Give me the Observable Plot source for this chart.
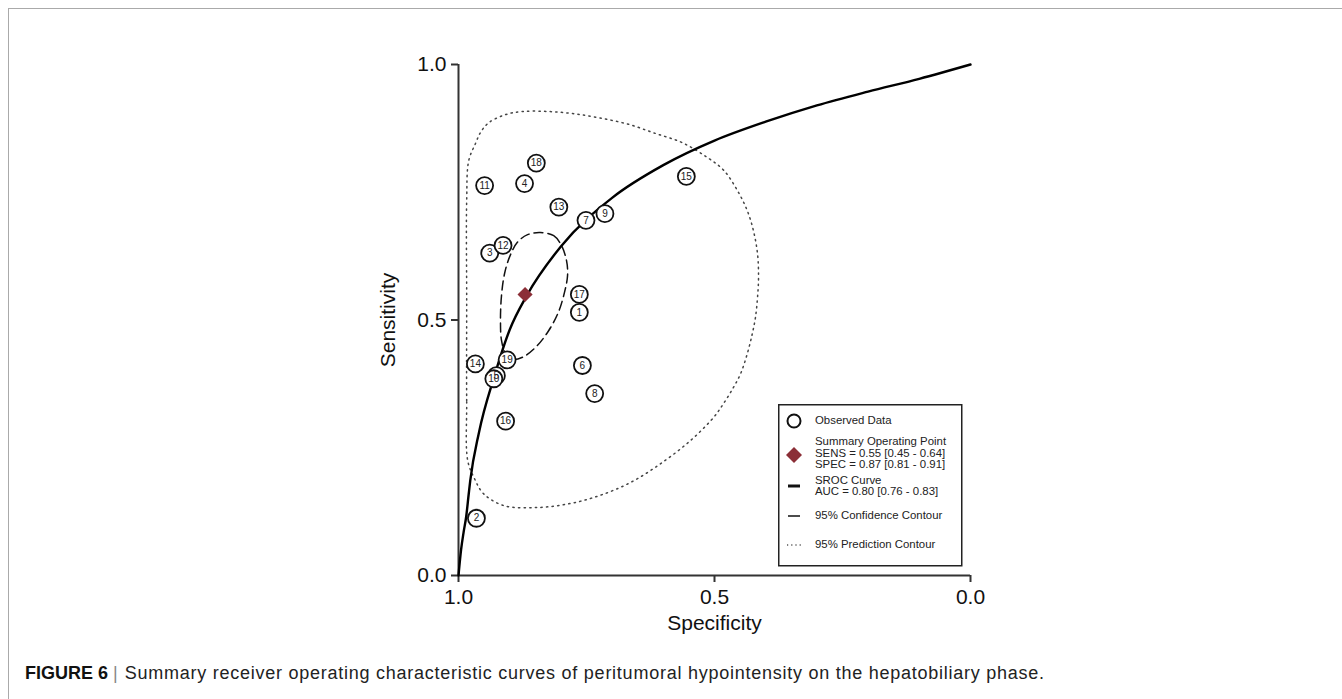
<!DOCTYPE html>
<html>
<head>
<meta charset="utf-8">
<script src="https://cdn.jsdelivr.net/npm/d3@7"></script>
<script src="https://cdn.jsdelivr.net/npm/@observablehq/plot@0.6"></script>
<style>
  body { margin: 0; background: #fff; font-family: "Liberation Sans", Arial, sans-serif; }
  #wrap { position: relative; width: 1342px; height: 699px; overflow: hidden; background: #fff; }
  #frame { position: absolute; left: 8px; top: 8px; width: 1400px; height: 800px;
           border-top: 1.5px solid #aaa; border-left: 1.5px solid #aaa; }
  #chart { position: absolute; left: 0; top: 0; }
  #legend { position: absolute; left: 778px; top: 404px; }
  #caption { position: absolute; left: 25px; top: 662px; font-size: 18px; line-height: 22px; color: #222; white-space: nowrap; }
  #caption b { color: #111; }
  #caption .sep { color: #888; padding: 0 7px 0 5px; }
  #caption .body { letter-spacing: 0.75px; }
</style>
</head>
<body>
<div id="wrap">
  <div id="frame"></div>
  <div id="chart"></div>
  <svg id="legend" width="186" height="165" font-family="Liberation Sans, Arial, sans-serif" font-size="11.4" fill="#222">
    <rect x="0.75" y="0.75" width="183" height="161" fill="white" stroke="#222" stroke-width="1.5"></rect>
    <circle cx="16" cy="17" r="6.5" fill="white" stroke="#111" stroke-width="2"></circle>
    <text x="37" y="17" dominant-baseline="middle">Observed Data</text>
    <polygon points="16,43 24,51 16,59 8,51" fill="#8b2e37"></polygon>
    <text x="37" y="38" dominant-baseline="middle">Summary Operating Point</text>
    <text x="37" y="50" dominant-baseline="middle">SENS = 0.55 [0.45 - 0.64]</text>
    <text x="37" y="61" dominant-baseline="middle">SPEC = 0.87 [0.81 - 0.91]</text>
    <line x1="10" x2="22" y1="82" y2="82" stroke="#111" stroke-width="3"></line>
    <text x="37" y="77" dominant-baseline="middle">SROC Curve</text>
    <text x="37" y="88" dominant-baseline="middle">AUC = 0.80 [0.76 - 0.83]</text>
    <line x1="10" x2="22" y1="112" y2="112" stroke="#111" stroke-width="1.5"></line>
    <text x="37" y="112" dominant-baseline="middle">95% Confidence Contour</text>
    <line x1="9" x2="23" y1="141" y2="141" stroke="#555" stroke-width="1.3" stroke-dasharray="1.2,3"></line>
    <text x="37" y="141" dominant-baseline="middle">95% Prediction Contour</text>
  </svg>
  <div id="caption"><b>FIGURE 6</b><span class="sep">|</span><span class="body">Summary receiver operating characteristic curves of peritumoral hypointensity on the hepatobiliary phase.</span></div>
</div>
<script>
// Observed studies
const studyIds  = [1, 2, 3, 4, 5, 6, 7, 8, 9, 10, 11, 12, 13, 14, 15, 16, 17, 18, 19];
const studySpec = [0.764, 0.965, 0.939, 0.871, 0.926, 0.758, 0.751, 0.734, 0.714, 0.931, 0.949, 0.913, 0.804, 0.967, 0.555, 0.908, 0.764, 0.848, 0.905];
const studySens = [0.515, 0.112, 0.631, 0.767, 0.391, 0.411, 0.695, 0.356, 0.708, 0.385, 0.763, 0.646, 0.721, 0.414, 0.781, 0.302, 0.550, 0.807, 0.422];

// Summary operating point
const summarySpec = [0.87];
const summarySens = [0.55];

// SROC curve
const srocSpec = [1.0, 0.995, 0.99, 0.985, 0.98, 0.977, 0.96, 0.93, 0.90, 0.866, 0.80, 0.70, 0.60, 0.50, 0.40, 0.30, 0.20, 0.10, 0.0];
const srocSens = [0.0, 0.05, 0.085, 0.115, 0.16, 0.186, 0.28, 0.39, 0.481, 0.549, 0.644, 0.739, 0.803, 0.851, 0.888, 0.920, 0.947, 0.972, 1.0];

// 95% confidence contour
const confSpec = [0.840, 0.814, 0.799, 0.789, 0.787, 0.793, 0.805, 0.824, 0.848, 0.875, 0.895, 0.908, 0.916, 0.918, 0.916, 0.910, 0.900, 0.885, 0.865];
const confSens = [0.671, 0.665, 0.646, 0.616, 0.587, 0.554, 0.515, 0.479, 0.448, 0.427, 0.423, 0.434, 0.460, 0.499, 0.548, 0.591, 0.624, 0.652, 0.667];

// 95% prediction contour
const predSpec = [0.982, 0.984, 0.984, 0.984, 0.980, 0.967, 0.957, 0.941, 0.908, 0.875, 0.824, 0.777, 0.727, 0.668, 0.615, 0.563, 0.514, 0.482, 0.455, 0.436, 0.424, 0.416, 0.414, 0.416, 0.420, 0.426, 0.436, 0.449, 0.463, 0.482, 0.502, 0.547, 0.605, 0.664, 0.723, 0.781, 0.846, 0.912, 0.951, 0.969];
const predSens = [0.225, 0.342, 0.538, 0.734, 0.812, 0.845, 0.867, 0.886, 0.902, 0.908, 0.908, 0.904, 0.896, 0.883, 0.865, 0.847, 0.818, 0.793, 0.753, 0.714, 0.675, 0.630, 0.583, 0.544, 0.505, 0.474, 0.434, 0.395, 0.368, 0.337, 0.309, 0.264, 0.219, 0.182, 0.157, 0.141, 0.133, 0.137, 0.160, 0.190];

const axisTicks = [1, 0.5, 0];

const studies = studyIds.map((id, i) => ({id, spec: studySpec[i], sens: studySens[i]}));
const summary = summarySpec.map((s, i) => ({spec: s, sens: summarySens[i]}));
const sroc = srocSpec.map((s, i) => ({spec: s, sens: srocSens[i]}));
const conf = confSpec.map((s, i) => ({spec: s, sens: confSens[i]}));
const pred = predSpec.map((s, i) => ({spec: s, sens: predSens[i]}));

const chart = Plot.plot({
  width: 1342,
  height: 645,
  marginLeft: 458,
  marginRight: 372,
  marginTop: 64,
  marginBottom: 70,
  x: {domain: [1, 0]},
  y: {domain: [0, 1]},
  style: {fontFamily: "Liberation Sans, Arial, sans-serif", color: "#111", background: "transparent", overflow: "visible"},
  marks: [
    Plot.axisX({ticks: axisTicks, tickFormat: d3.format(".1f"), tickSize: 7, tickPadding: 7, fontSize: 21,
                stroke: "#333", strokeWidth: 2, label: "Specificity", labelAnchor: "center", labelArrow: "none", labelOffset: 54}),
    Plot.axisY({ticks: axisTicks, tickFormat: d3.format(".1f"), tickSize: 7, tickPadding: 5, fontSize: 21,
                stroke: "#333", strokeWidth: 2, label: "Sensitivity", labelAnchor: "center", labelArrow: "none", labelOffset: 78}),
    Plot.ruleX([1], {y1: 0, y2: 1, stroke: "#333", strokeWidth: 2}),
    Plot.ruleY([0], {x1: 1, x2: 0, stroke: "#333", strokeWidth: 2}),
    Plot.line(pred, {x: "spec", y: "sens", curve: "catmull-rom-closed", stroke: "#444", strokeWidth: 1.5, strokeDasharray: "1.3,4.3"}),
    Plot.line(conf, {x: "spec", y: "sens", curve: "catmull-rom-closed", stroke: "#111", strokeWidth: 1.5, strokeDasharray: "9,5"}),
    Plot.line(sroc, {x: "spec", y: "sens", curve: "monotone-x", stroke: "#000", strokeWidth: 2.4}),
    Plot.dot(studies, {x: "spec", y: "sens", r: 8.5, fill: "white", stroke: "#111", strokeWidth: 1.8}),
    Plot.text(studies, {x: "spec", y: "sens", text: "id", fontSize: 10, fill: "#222"}),
    Plot.dot(summary, {x: "spec", y: "sens", symbol: "diamond2", r: 6.8, fill: "#8b2e37"})
  ]
});
document.getElementById("chart").appendChild(chart);
</script>
</body>
</html>
